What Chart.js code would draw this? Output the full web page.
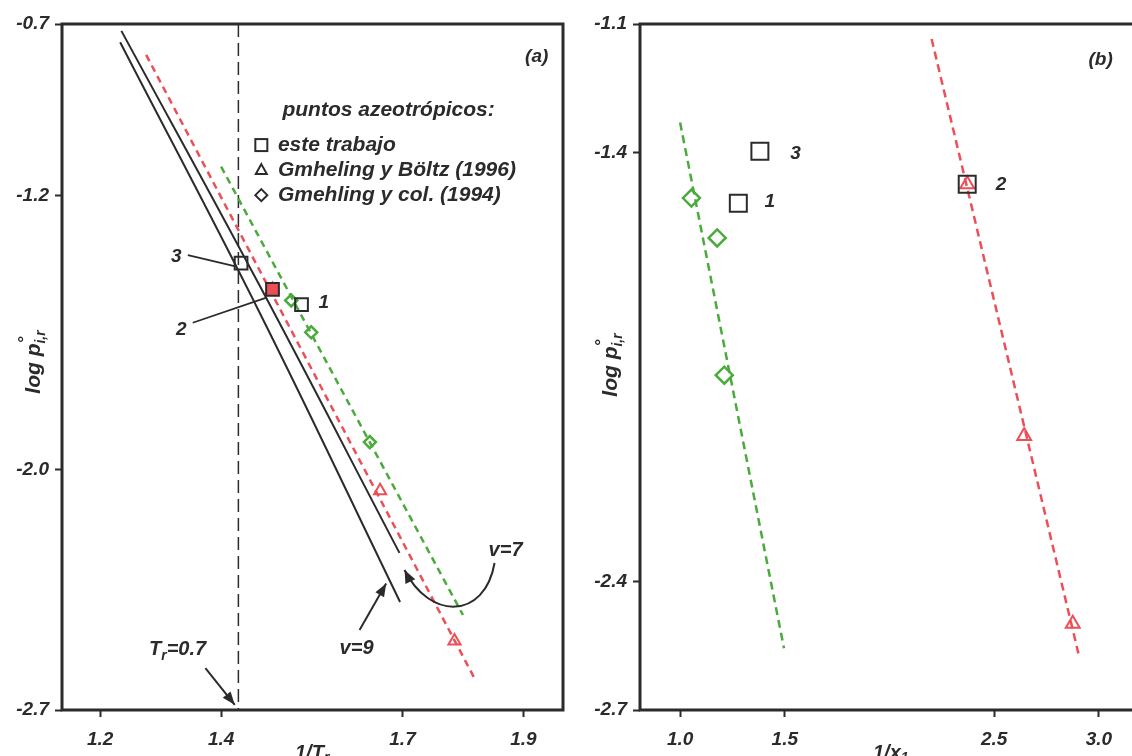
<!DOCTYPE html>
<html>
<head>
<meta charset="utf-8">
<script src="https://cdn.jsdelivr.net/npm/chart.js@4/dist/chart.umd.min.js"></script>
<style>
  html, body { margin: 0; padding: 0; background: #fff; overflow: hidden; width: 1132px; height: 756px; }
  #wrapA { position: absolute; left: 0; top: 0; width: 600px; height: 756px; }
  #wrapB { position: absolute; left: 570px; top: 0; width: 620px; height: 756px; }
</style>
</head>
<body>
<div id="wrapA"><canvas id="chartA"></canvas></div>
<div id="wrapB"><canvas id="chartB"></canvas></div>
<script>
// ---- panel (a): log p vs 1/Tr ----
var xTicksA = [1.2, 1.4, 1.7, 1.9];
var yTicksA = [-0.7, -1.2, -2.0, -2.7];
// correlations v=7 and v=9 (solid)
var v7X = [1.235, 1.465, 1.695];
var v7Y = [-0.720, -1.467, -2.242];
var v9X = [1.233, 1.465, 1.696];
var v9Y = [-0.753, -1.546, -2.385];
// dashed fits
var redAX = [1.276, 1.818];
var redAY = [-0.790, -2.604];
var greenAX = [1.400, 1.800];
var greenAY = [-1.116, -2.423];
// Tr = 0.7
var trX = [1 / 0.7, 1 / 0.7];
var trY = [-0.7, -2.7];
// azeotropic points, log p is the same in both panels (points 1, 2, 3)
var squareY = [-1.518, -1.474, -1.397];
var squareAX = [1.533, 1.485, 1.433];
var diamondY = [-1.506, -1.599, -1.919];
var diamondAX = [1.516, 1.549, 1.646];
var triangleY = [-1.474, -2.061, -2.499];
var triangleAX = [1.485, 1.663, 1.786];

// ---- panel (b): log p vs 1/x1 ----
var xTicksB = [1.0, 1.5, 2.5, 3.0];
var yTicksB = [-1.1, -1.4, -2.4, -2.7];
var squareBX = [1.278, 2.371, 1.381];
var diamondBX = [1.054, 1.177, 1.211];
var triangleBX = [2.371, 2.643, 2.875];
var greenBX = [1.0, 1.496];
var greenBY = [-1.330, -2.556];
var redBX = [2.201, 2.902];
var redBY = [-1.135, -2.568];

var fontFam = "'Liberation Sans', Arial, sans-serif";
var ink = '#2b2b2b';
var red = '#ec4f57';
var green = '#4aaa3c';

function pts(xs, ys) {
  return xs.map(function (x, i) { return { x: x, y: ys[i] }; });
}

function fixedTicks(list) {
  return function (scale) { scale.ticks = list.map(function (v) { return { value: v }; }); };
}

function bi(size) { return 'italic bold ' + size + 'px ' + fontFam; }

function axes(xMin, xMax, xTicks, yMin, yMax, yTicks, yWidth) {
  var tickFont = { family: fontFam, size: 19, weight: 'bold', style: 'italic' };
  var grid = { drawOnChartArea: false, drawTicks: true, tickLength: 7, tickWidth: 2, tickColor: ink };
  return {
    x: {
      type: 'linear', min: xMin, max: xMax,
      afterBuildTicks: fixedTicks(xTicks),
      afterFit: function (s) { s.height = 46; },
      grid: grid, border: { display: false },
      ticks: { color: ink, font: tickFont, padding: 11, maxRotation: 0, autoSkip: false,
               callback: function (v) { return v.toFixed(1); } }
    },
    y: {
      type: 'linear', min: yMin, max: yMax,
      afterBuildTicks: fixedTicks(yTicks),
      afterFit: function (s) { s.width = yWidth; },
      grid: grid, border: { display: false },
      ticks: { color: ink, font: tickFont, padding: 6, autoSkip: false,
               callback: function (v) { return v.toFixed(1); } }
    }
  };
}

// text with sub/superscripts: [text, size, dy, advance]
function partsWidth(ctx, parts) {
  var w = 0;
  parts.forEach(function (p) {
    ctx.font = bi(p[1]);
    if (p[3] !== false) w += ctx.measureText(p[0]).width;
  });
  return w;
}
function drawParts(ctx, parts, x, y) {
  var cx = x;
  parts.forEach(function (p) {
    ctx.font = bi(p[1]);
    ctx.fillText(p[0], cx, y + p[2]);
    if (p[3] !== false) cx += ctx.measureText(p[0]).width;
  });
}
function yTitle(ctx, cx, cy) {
  var parts = [['log p', 21, 0], ['\u00b0', 17, -10, false], ['i,r', 14, 5]];
  ctx.save();
  ctx.translate(cx, cy);
  ctx.rotate(-Math.PI / 2);
  ctx.textBaseline = 'alphabetic';
  ctx.textAlign = 'left';
  drawParts(ctx, parts, -partsWidth(ctx, parts) / 2, 7);
  ctx.restore();
}
function seg(ctx, x0, y0, x1, y1) {
  ctx.beginPath(); ctx.moveTo(x0, y0); ctx.lineTo(x1, y1); ctx.stroke();
}
function head(ctx, x, y, ang, len, wid) {
  ctx.beginPath();
  ctx.moveTo(x, y);
  ctx.lineTo(x - len * Math.cos(ang) + wid * Math.sin(ang), y - len * Math.sin(ang) - wid * Math.cos(ang));
  ctx.lineTo(x - len * Math.cos(ang) - wid * Math.sin(ang), y - len * Math.sin(ang) + wid * Math.cos(ang));
  ctx.closePath();
  ctx.fill();
}
function label(ctx, text, x, y, size) {
  ctx.font = bi(size);
  ctx.textAlign = 'center';
  ctx.textBaseline = 'middle';
  ctx.fillText(text, x, y);
}

var annotateA = {
  id: 'annotateA',
  afterDatasetsDraw: function (chart) {
    var ctx = chart.ctx, a = chart.chartArea;
    var X = function (v) { return chart.scales.x.getPixelForValue(v); };
    var Y = function (v) { return chart.scales.y.getPixelForValue(v); };
    ctx.save();
    ctx.strokeStyle = ink; ctx.fillStyle = ink;
    ctx.lineWidth = 3;
    ctx.strokeRect(a.left, a.top, a.right - a.left, a.bottom - a.top);

    // point labels and leaders
    ctx.lineWidth = 1.8;
    seg(ctx, X(1.345), Y(-1.374), X(1.422), Y(-1.406));
    seg(ctx, X(1.353), Y(-1.571), X(1.475), Y(-1.498));
    label(ctx, '3', X(1.326), Y(-1.378), 19);
    label(ctx, '2', X(1.334), Y(-1.592), 19);
    label(ctx, '1', X(1.570), Y(-1.514), 19);
    label(ctx, '(a)', X(1.922), Y(-0.796), 19);

    // legend
    label(ctx, 'puntos azeotr\u00f3picos:', X(1.677), Y(-0.951), 21);
    var rows = [-1.053, -1.126, -1.199];
    var mx = X(1.4665);
    ctx.lineWidth = 2;
    ctx.strokeRect(mx - 6, Y(rows[0]) - 6, 12, 12);
    var ty = Y(rows[1]);
    ctx.beginPath(); ctx.moveTo(mx, ty - 6); ctx.lineTo(mx + 5.5, ty + 4); ctx.lineTo(mx - 5.5, ty + 4); ctx.closePath(); ctx.stroke();
    var dy = Y(rows[2]);
    ctx.beginPath(); ctx.moveTo(mx, dy - 6); ctx.lineTo(mx + 6, dy); ctx.lineTo(mx, dy + 6); ctx.lineTo(mx - 6, dy); ctx.closePath(); ctx.stroke();
    ctx.font = bi(21); ctx.textAlign = 'left'; ctx.textBaseline = 'middle';
    ctx.fillText('este trabajo', X(1.4939), Y(rows[0]));
    ctx.fillText('Gmheling y B\u00f6ltz (1996)', X(1.4939), Y(rows[1]));
    ctx.fillText('Gmehling y col. (1994)', X(1.4939), Y(rows[2]));

    // Tr = 0.7
    var tr = [['T', 20, 0], ['r', 14, 6], ['=0.7', 20, 0]];
    ctx.textBaseline = 'middle';
    drawParts(ctx, tr, X(1.328) - partsWidth(ctx, tr) / 2, Y(-2.525));
    ctx.lineWidth = 2;
    var x0 = X(1.374), y0 = Y(-2.578), x1 = X(1.4226), y1 = Y(-2.685);
    seg(ctx, x0, y0, x1, y1);
    head(ctx, x1, y1, Math.atan2(y1 - y0, x1 - x0), 13, 5);

    // v=9
    label(ctx, 'v=9', X(1.624), Y(-2.520), 20);
    x0 = X(1.629); y0 = Y(-2.467); x1 = X(1.673); y1 = Y(-2.331);
    seg(ctx, x0, y0, x1, y1);
    head(ctx, x1, y1, Math.atan2(y1 - y0, x1 - x0), 13, 5);

    // v=7
    label(ctx, 'v=7', X(1.8705), Y(-2.2335), 20);
    var c1x = X(1.8358), c1y = Y(-2.4376), c2x = X(1.7447), c2y = Y(-2.4376);
    x1 = X(1.7034); y1 = Y(-2.2918);
    ctx.beginPath();
    ctx.moveTo(X(1.8523), Y(-2.2714));
    ctx.bezierCurveTo(c1x, c1y, c2x, c2y, x1, y1);
    ctx.stroke();
    head(ctx, x1, y1, Math.atan2(y1 - c2y, x1 - c2x), 13, 5.5);

    // axis titles
    ctx.textAlign = 'left'; ctx.textBaseline = 'top';
    drawParts(ctx, [['1/T', 20, 0], ['r', 14, 8]], 295, 743);
    yTitle(ctx, 33, 362);
    ctx.restore();
  }
};

var annotateB = {
  id: 'annotateB',
  afterDatasetsDraw: function (chart) {
    var ctx = chart.ctx, a = chart.chartArea;
    var X = function (v) { return chart.scales.x.getPixelForValue(v); };
    var Y = function (v) { return chart.scales.y.getPixelForValue(v); };
    ctx.save();
    ctx.strokeStyle = ink; ctx.fillStyle = ink;
    ctx.lineWidth = 3;
    ctx.strokeRect(a.left, a.top, a.right - a.left, a.bottom - a.top);
    label(ctx, '1', X(1.428), Y(-1.5145), 19);
    label(ctx, '3', X(1.551), Y(-1.4016), 19);
    label(ctx, '2', X(2.532), Y(-1.4755), 19);
    label(ctx, '(b)', X(3.008), Y(-1.184), 19);
    ctx.textAlign = 'left'; ctx.textBaseline = 'top';
    drawParts(ctx, [['1/x', 20, 0], ['1', 14, 8]], 303, 743);
    yTitle(ctx, 40, 365);
    ctx.restore();
  }
};

Chart.defaults.animation = false;

new Chart(document.getElementById('chartA'), {
  type: 'scatter',
  data: {
    datasets: [
      { label: 'este trabajo', data: pts(squareAX, squareY), pointStyle: 'rect', pointRadius: 9,
        pointBorderColor: ink, pointBorderWidth: 2,
        pointBackgroundColor: ['rgba(255,255,255,0)', red, 'rgba(255,255,255,0)'] },
      { label: 'Gmehling y col. (1994)', data: pts(diamondAX, diamondY), pointStyle: 'rectRot', pointRadius: 6,
        pointBorderColor: green, pointBorderWidth: 2.5, pointBackgroundColor: 'rgba(255,255,255,0)' },
      { label: 'Gmheling y Boltz (1996)', data: pts(triangleAX, triangleY), pointStyle: 'triangle', pointRadius: 7,
        pointBorderColor: red, pointBorderWidth: 2, pointBackgroundColor: 'rgba(255,255,255,0)' },
      { label: 'v=7', data: pts(v7X, v7Y), showLine: true, borderColor: ink, borderWidth: 2, pointRadius: 0, tension: 0.4 },
      { label: 'v=9', data: pts(v9X, v9Y), showLine: true, borderColor: ink, borderWidth: 2, pointRadius: 0, tension: 0.4 },
      { label: 'ajuste rojo', data: pts(redAX, redAY), showLine: true, borderColor: red, borderWidth: 2.5,
        borderDash: [7, 5], pointRadius: 0 },
      { label: 'ajuste verde', data: pts(greenAX, greenAY), showLine: true, borderColor: green, borderWidth: 2.5,
        borderDash: [7, 5], pointRadius: 0 },
      { label: 'Tr=0.7', data: pts(trX, trY), showLine: true, borderColor: ink, borderWidth: 1.5,
        borderDash: [13, 6], pointRadius: 0 }
    ]
  },
  options: {
    responsive: true, maintainAspectRatio: false,
    layout: { padding: { left: 0, right: 37, top: 24, bottom: 0 } },
    plugins: { legend: { display: false }, tooltip: { enabled: false } },
    scales: axes(1.1368, 1.9655, xTicksA, -2.7, -0.7, yTicksA, 62)
  },
  plugins: [annotateA]
});

new Chart(document.getElementById('chartB'), {
  type: 'scatter',
  data: {
    datasets: [
      { label: 'este trabajo', data: pts(squareBX, squareY), pointStyle: 'rect', pointRadius: 12,
        pointBorderColor: ink, pointBorderWidth: 2, pointBackgroundColor: 'rgba(255,255,255,0)' },
      { label: 'Gmehling y col. (1994)', data: pts(diamondBX, diamondY), pointStyle: 'rectRot', pointRadius: 8.5,
        pointBorderColor: green, pointBorderWidth: 2.5, pointBackgroundColor: 'rgba(255,255,255,0)' },
      { label: 'Gmheling y Boltz (1996)', data: pts(triangleBX, triangleY), pointStyle: 'triangle', pointRadius: 8,
        pointBorderColor: red, pointBorderWidth: 2, pointBackgroundColor: 'rgba(255,255,255,0)' },
      { label: 'ajuste verde', data: pts(greenBX, greenBY), showLine: true, borderColor: green, borderWidth: 2.5,
        borderDash: [8, 5], pointRadius: 0 },
      { label: 'ajuste rojo', data: pts(redBX, redBY), showLine: true, borderColor: red, borderWidth: 2.5,
        borderDash: [8, 5], pointRadius: 0 }
    ]
  },
  options: {
    responsive: true, maintainAspectRatio: false,
    layout: { padding: { left: 0, right: 10, top: 24, bottom: 0 } },
    plugins: { legend: { display: false }, tooltip: { enabled: false } },
    scales: axes(0.8085, 3.368, xTicksB, -2.7, -1.1, yTicksB, 70)
  },
  plugins: [annotateB]
});
</script>
</body>
</html>
